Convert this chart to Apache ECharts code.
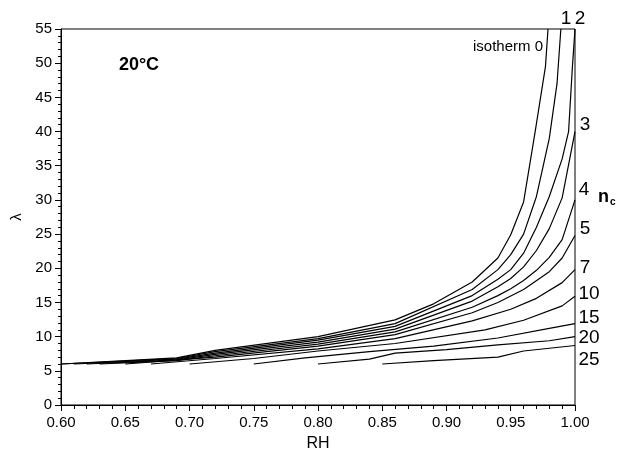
<!DOCTYPE html>
<html>
<head>
<meta charset="utf-8">
<script src="https://cdn.jsdelivr.net/npm/echarts@6/dist/echarts.min.js"></script>
<style>
  html, body { margin: 0; padding: 0; background: #fff; }
  #chart { width: 618px; height: 457px; }
</style>
</head>
<body>
<div id="chart"></div>
<script>
// curve labels (n_c)
var curveNames = ['0', '1', '2', '3', '4', '5', '7', '10', '15', '20', '25'];

// [RH, lambda] points
var nc0  = [[0.60,6.0],[0.69,6.9],[0.72,8.0],[0.80,10.0],[0.86,12.45],[0.89,14.8],[0.92,18.0],[0.94,21.5],[0.95,24.9],[0.96,29.7],[0.969,40],[0.977,49.5],[0.979,55]];
var nc1  = [[0.60,6.0],[0.69,6.8],[0.72,7.8],[0.80,9.7],[0.86,11.9],[0.92,16.9],[0.94,19.8],[0.95,22.0],[0.96,25.0],[0.97,30.5],[0.98,39],[0.986,47],[0.989,55]];
var nc2  = [[0.61,6.0],[0.69,6.7],[0.72,7.6],[0.80,9.5],[0.86,11.5],[0.92,16.0],[0.94,18.4],[0.95,19.8],[0.96,22.2],[0.97,26.0],[0.98,30.5],[0.99,36],[0.995,40],[0.998,49.5],[1.0,55]];
var nc3  = [[0.62,6.0],[0.69,6.6],[0.72,7.4],[0.80,9.2],[0.86,11.1],[0.92,15.2],[0.94,17.3],[0.95,18.5],[0.96,20.2],[0.97,22.6],[0.98,25.8],[0.99,30.3],[1.0,40]];
var nc4  = [[0.63,6.0],[0.69,6.5],[0.72,7.2],[0.80,8.9],[0.86,10.7],[0.92,14.3],[0.94,16.0],[0.95,17.0],[0.96,18.2],[0.97,19.7],[0.98,21.6],[0.99,24.2],[1.0,30]];
var nc5  = [[0.65,6.0],[0.72,7.0],[0.80,8.6],[0.86,10.3],[0.92,13.5],[0.94,15.0],[0.96,16.9],[0.98,19.5],[0.99,21.5],[1.0,24.8]];
var nc7  = [[0.67,6.0],[0.72,6.8],[0.80,8.2],[0.86,9.7],[0.92,12.3],[0.95,14.0],[0.97,15.6],[0.99,17.9],[1.0,19.8]];
var nc10 = [[0.70,6.0],[0.75,6.8],[0.80,7.9],[0.86,9.0],[0.93,11.0],[0.96,12.4],[0.99,14.5],[1.0,15.9]];
var nc15 = [[0.75,6.0],[0.79,6.9],[0.84,7.8],[0.89,8.6],[0.94,9.8],[0.98,11.2],[1.0,11.9]];
var nc20 = [[0.80,6.0],[0.84,6.7],[0.86,7.6],[0.90,8.1],[0.94,8.8],[0.98,9.4],[1.0,10.0]];
var nc25 = [[0.85,6.0],[0.89,6.5],[0.94,7.0],[0.96,7.9],[1.0,8.7]];

var curves = [nc0, nc1, nc2, nc3, nc4, nc5, nc7, nc10, nc15, nc20, nc25];

var chart = echarts.init(document.getElementById('chart'));

var font = 'Liberation Sans, Arial, sans-serif';

var series = curves.map(function (d, i) {
    return {
        name: curveNames[i],
        type: 'line',
        data: d,
        showSymbol: false,
        silent: true,
        lineStyle: { color: '#000', width: 1.2 }
    };
});

// text placed around the frame
var texts = [
    { x: 566, y: 19, t: '1' },
    { x: 580, y: 19, t: '2' },
    { x: 585, y: 125, t: '3' },
    { x: 584, y: 190, t: '4' },
    { x: 585, y: 229, t: '5' },
    { x: 585, y: 268, t: '7' },
    { x: 589, y: 294, t: '10' },
    { x: 589, y: 318, t: '15' },
    { x: 589, y: 338, t: '20' },
    { x: 589, y: 360, t: '25' }
];

var graphic = texts.map(function (o) {
    return {
        type: 'text', x: o.x, y: o.y,
        style: { text: o.t, font: '19px ' + font, fill: '#000', align: 'center', verticalAlign: 'middle' }
    };
});
graphic.push({
    type: 'text', x: 508, y: 47,
    style: { text: 'isotherm 0', font: '15px ' + font, fill: '#000', align: 'center', verticalAlign: 'middle' }
});
graphic.push({
    type: 'text', x: 139, y: 65,
    style: { text: '20°C', font: 'bold 18px ' + font, fill: '#000', align: 'center', verticalAlign: 'middle' }
});
graphic.push({
    type: 'text', x: 598, y: 187,
    style: {
        text: '{n|n}{c|c}',
        rich: {
            n: { font: 'bold 18px ' + font, fill: '#000' },
            c: { font: 'bold 10px ' + font, fill: '#000', padding: [10, 0, 0, 1] }
        },
        fill: '#000'
    }
});

option = {
    backgroundColor: '#fff',
    animation: false,
    grid: {
        left: 61, right: 43, top: 29, bottom: 51,
        show: true, borderColor: '#000', borderWidth: 1
    },
    xAxis: {
        type: 'value',
        min: 0.6, max: 1.0, interval: 0.05,
        name: 'RH',
        nameLocation: 'middle',
        nameGap: 31,
        nameTextStyle: { fontFamily: font, fontSize: 16, color: '#000' },
        axisLine: { lineStyle: { color: '#000', width: 1 } },
        axisTick: { length: 6, lineStyle: { color: '#000' } },
        minorTick: { show: true, splitNumber: 5, length: 4, lineStyle: { color: '#000' } },
        splitLine: { show: false },
        axisLabel: {
            fontFamily: font, fontSize: 15, color: '#000', margin: 10,
            formatter: function (v) { return v.toFixed(2); }
        }
    },
    yAxis: {
        type: 'value',
        min: 0, max: 55, interval: 5,
        name: 'λ',
        nameLocation: 'middle',
        nameGap: 34,
        nameRotate: 90,
        nameTextStyle: { fontFamily: font, fontSize: 15, color: '#000' },
        axisLine: { show: true, lineStyle: { color: '#000', width: 1 } },
        axisTick: { show: true, length: 6, lineStyle: { color: '#000' } },
        minorTick: { show: true, splitNumber: 5, length: 3, lineStyle: { color: '#000' } },
        splitLine: { show: false },
        axisLabel: { fontFamily: font, fontSize: 15, color: '#000', margin: 9 }
    },
    series: series,
    graphic: graphic
};

chart.setOption(option);
</script>
</body>
</html>
